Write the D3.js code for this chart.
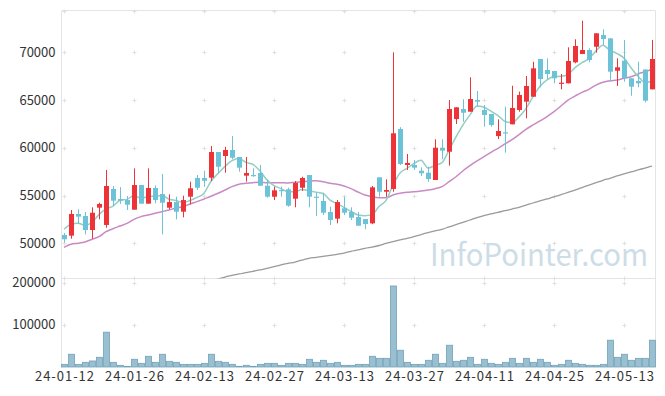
<!DOCTYPE html>
<html><head><meta charset="utf-8">
<script src="https://cdn.jsdelivr.net/npm/d3@7"></script>
<style>
html,body{margin:0;padding:0;background:#fff;}
svg{display:block;}
text{font-family:"Noto Sans CJK KR","Noto Sans",sans-serif;}
</style></head>
<body><svg id="c" width="665" height="396"></svg>
<script>
const dates = ["24-01-12","24-01-15","24-01-16","24-01-17","24-01-18","24-01-19","24-01-22","24-01-23","24-01-24","24-01-25",
"24-01-26","24-01-29","24-01-30","24-01-31","24-02-01","24-02-02","24-02-05","24-02-06","24-02-07","24-02-08",
"24-02-13","24-02-14","24-02-15","24-02-16","24-02-19","24-02-20","24-02-21","24-02-22","24-02-23","24-02-26",
"24-02-27","24-02-28","24-02-29","24-03-04","24-03-05","24-03-06","24-03-07","24-03-08","24-03-11","24-03-12",
"24-03-13","24-03-14","24-03-15","24-03-18","24-03-19","24-03-20","24-03-21","24-03-22","24-03-25","24-03-26",
"24-03-27","24-03-28","24-03-29","24-04-01","24-04-02","24-04-03","24-04-04","24-04-05","24-04-08","24-04-09",
"24-04-11","24-04-12","24-04-15","24-04-16","24-04-17","24-04-18","24-04-19","24-04-22","24-04-23","24-04-24",
"24-04-25","24-04-26","24-04-29","24-04-30","24-05-02","24-05-03","24-05-07","24-05-08","24-05-09","24-05-10",
"24-05-13","24-05-14","24-05-16","24-05-17","24-05-20"];

const open = [50870,50800,53070,52860,51390,53730,51920,55690,54640,54530,
53520,56100,54150,55790,55160,53730,54320,53310,54880,56840,
56840,56870,59560,59140,59770,59040,57080,57150,57360,56030,
54880,55580,55650,54670,55820,57150,54880,54430,53280,52580,
53670,53280,52750,52540,52090,56910,55400,55690,61970,58200,
58200,57600,57390,56630,60010,59590,63010,64060,63780,65000,
63960,63540,61230,61620,62460,63960,64830,65350,69300,68150,
68040,66750,66750,68950,69820,70240,70580,71810,71460,68070,
69120,67280,66990,68200,66120];
const close = [50420,53070,52790,51390,53200,54120,56000,54460,54460,54040,
56100,54150,55790,54530,54250,54320,53310,54530,55760,55820,
56550,59560,58020,59770,58960,57920,57360,57080,56030,54880,
55550,55510,53940,56310,56840,54880,54820,53200,52440,54320,
53200,52680,51840,52020,55860,55400,55580,61520,58300,58410,
57920,57330,56730,60010,59700,64060,64240,63670,65110,64830,
63430,62390,61760,61520,64170,65530,66470,68320,67200,67730,
67280,66820,69090,70660,70240,69190,71990,71390,67970,68430,
67280,66400,66750,64930,69300];
const high = [51080,53490,53560,53280,53770,54250,57680,56000,55890,54950,
57850,56100,57850,56070,57260,55130,54880,54980,56450,57150,
57600,60190,59560,60110,61230,59040,59040,57850,58200,56630,
55930,55930,55820,56520,56970,57150,55340,55300,53830,54530,
54880,53770,53280,52540,56000,56910,56700,70000,62160,59350,
58720,57960,58020,60890,60890,65000,64240,65080,67380,65950,
64480,63540,62980,64300,66500,65880,67520,69010,69300,69370,
68040,67730,70520,71360,73310,70420,71990,72410,71460,69370,
71290,67280,69010,68200,71290];
const low = [50060,50480,52020,50940,50480,52510,51630,53910,54120,53490,
53520,54150,54150,54190,50940,53560,52510,52720,54080,55580,
55930,56520,57260,57390,58800,57500,56450,56970,56030,54770,
54530,54880,53830,53770,55480,53770,52860,52960,51920,52090,
52960,52440,51840,51470,52000,54880,54880,55400,58200,57680,
57680,57050,56450,56630,58800,58130,62490,62730,63780,64300,
62210,62210,60920,59490,62460,63780,63090,65350,66330,67200,
66750,66120,66750,68850,69820,68950,69960,70760,66920,66470,
66920,65450,66330,64760,66120];
const volume = [6300,30200,6300,11100,14300,23000,82500,11100,4000,1600,
18300,8700,25400,11100,30200,13500,11100,6300,6300,6300,
8700,30200,13500,11100,6300,1600,4000,1600,6300,8700,
8700,4000,8700,8700,6300,18300,11100,15900,8700,11100,
4000,4000,6300,6300,25400,20600,20600,192000,39700,11100,
6300,6300,15900,30200,8700,51600,13500,15900,23000,6300,
18300,8700,6300,11100,20600,8700,20600,11100,18300,11100,
4000,6300,15900,8700,6300,4000,4000,6300,63500,23000,
30200,15900,20600,20600,63500];
const ma5 = [51470,51990,52090,51890,52200,53000,53600,53900,54500,54600,
55000,54700,54900,54930,55000,54620,54480,54270,54480,54800,
55250,56500,57300,58050,58650,58870,58470,58260,57570,56640,
56050,55730,55400,55400,55640,55500,55360,55220,54520,54150,
53770,53330,52970,52890,53000,53850,54500,56090,57360,57850,
58360,58700,57880,58140,58440,59750,61140,62410,63450,64380,
64250,63830,63380,62760,62640,63240,64100,65360,66450,67110,
67460,67490,67670,68400,68910,69340,70150,70730,70200,69870,
69390,68390,67490,66840,66960];
const ma20 = [49580,49900,50000,50140,50420,50690,51220,51530,51810,52090,
52510,52790,52960,53140,53310,53490,53700,53830,54120,54360,
54640,54920,55240,55580,55930,56180,56280,56350,56390,56350,
56350,56350,56310,56390,56450,56520,56550,56450,56280,56180,
56000,55720,55370,55060,54880,54770,54770,55060,55240,55340,
55400,55480,55580,55720,55930,56450,56970,57600,58130,58620,
59070,59530,59950,60400,60850,61390,61940,62390,62810,63260,
63780,64380,65000,65420,65810,66120,66570,66860,67020,67100,
67280,67440,67730,67970,68220];
const ma60 = [null,null,null,null,null,null,null,null,null,null,
null,null,null,null,null,null,null,null,null,45690,
45840,46050,46260,46470,46630,46790,46920,47070,47210,47380,
47550,47730,47890,48040,48250,48430,48530,48640,48740,48850,
48980,49160,49300,49480,49610,49770,49980,50170,50350,50520,
50710,50920,51110,51290,51470,51710,51950,52200,52440,52700,
52910,53070,53250,53410,53590,53770,53990,54220,54430,54640,
54850,55090,55340,55580,55840,56100,56350,56600,56810,57050,
57260,57470,57680,57880,58090];
const priceTicks = [50000,55000,60000,65000,70000];
const volumeTicks = [100000,200000];
const xTickLabels = ["24-01-12","24-01-26","24-02-13","24-02-27","24-03-13","24-03-27","24-04-11","24-04-25","24-05-13"];

const svg = d3.select("#c");
const L = 61.5, R = 655.5, T = 10.5, PB = 278.5, VB = 367;
const x = d3.scalePoint().domain(dates).range([64, 652]);
const y = d3.scaleLinear().domain([50000, 70000]).range([243.3, 52.3]);
const yv = d3.scaleLinear().domain([0, 200000]).range([VB, 282.6]);

const UP = "#ee3338", DOWN = "#6cc3d8";

svg.append("defs").append("clipPath").attr("id","pc")
  .append("rect").attr("x", L).attr("y", T).attr("width", R - L).attr("height", PB - T);

// watermark
svg.append("text").attr("x", 430).attr("y", 266).attr("font-size", 31)
  .attr("fill", "#cddde7").attr("textLength", 218).attr("lengthAdjust", "spacingAndGlyphs")
  .text("InfoPointer.com");

// borders
const bc = "#e4e4e4";
svg.append("line").attr("x1", L).attr("x2", L).attr("y1", T).attr("y2", VB).attr("stroke", bc);
svg.append("line").attr("x1", R).attr("x2", R).attr("y1", T).attr("y2", VB).attr("stroke", bc);
svg.append("line").attr("x1", L).attr("x2", R).attr("y1", T).attr("y2", T).attr("stroke", bc);
svg.append("line").attr("x1", L).attr("x2", R).attr("y1", PB).attr("y2", PB).attr("stroke", bc);

// grid crosses
const crossYs = priceTicks.map(y).concat(volumeTicks.map(yv)).concat([11, 278]);
const cg = svg.append("g").attr("stroke", "#e0e0e0").attr("stroke-width", 1);
xTickLabels.forEach(d => {
  const cx = Math.round(x(d)) + 0.5;
  crossYs.forEach(cy0 => {
    const cy = Math.round(cy0) + 0.5;
    cg.append("line").attr("x1", cx - 2).attr("x2", cx + 2).attr("y1", cy).attr("y2", cy);
    cg.append("line").attr("x1", cx).attr("x2", cx).attr("y1", cy - 2).attr("y2", cy + 2);
  });
});

// MA lines
const pg = svg.append("g").attr("clip-path", "url(#pc)");
function maLine(arr, color, w) {
  const ln = d3.line().defined(d => d != null)
    .x((d, i) => x(dates[i])).y(d => y(d)).curve(d3.curveMonotoneX);
  pg.append("path").attr("d", ln(arr)).attr("fill", "none")
    .attr("stroke", color).attr("stroke-width", w);
}
maLine(ma60, "#9a9a9a", 1.3);
maLine(ma20, "#c98ac4", 1.5);
maLine(ma5, "#93cdc3", 1.5);

// candles
const cw = 5;
dates.forEach((d, i) => {
  const up = close[i] >= open[i];
  const col = up ? UP : DOWN;
  const cx = Math.round(x(d)) + 0.5;
  pg.append("line").attr("x1", cx).attr("x2", cx)
    .attr("y1", y(high[i])).attr("y2", y(low[i])).attr("stroke", col).attr("stroke-width", 1);
  const top = y(Math.max(open[i], close[i])), bot = y(Math.min(open[i], close[i]));
  pg.append("rect").attr("x", cx - cw / 2).attr("width", cw)
    .attr("y", top).attr("height", Math.max(1.2, bot - top)).attr("fill", col);
});

// volume bars
const bw = 6;
svg.append("g").selectAll("rect").data(volume).join("rect")
  .attr("x", (v, i) => Math.round(x(dates[i])) - bw / 2 + 0.5)
  .attr("width", bw)
  .attr("y", v => yv(v))
  .attr("height", v => VB - yv(v))
  .attr("fill", "#99bfd0").attr("stroke", "#72a2b8").attr("stroke-width", 0.8);

// axes
function styleAxis(g) {
  g.select(".domain").remove();
  g.selectAll("text").attr("fill", "#333").attr("font-size", 13)
    .attr("font-family", '"Noto Sans CJK KR","Noto Sans",sans-serif');
}
svg.append("g").attr("transform", `translate(${L},0)`)
  .call(d3.axisLeft(y).tickValues(priceTicks).tickSize(0).tickPadding(6).tickFormat(d3.format("d")))
  .call(styleAxis);
svg.append("g").attr("transform", `translate(${L},0)`)
  .call(d3.axisLeft(yv).tickValues(volumeTicks).tickSize(0).tickPadding(6).tickFormat(d3.format("d")))
  .call(styleAxis);
svg.append("g").attr("transform", `translate(0,${VB})`)
  .call(d3.axisBottom(x).tickValues(xTickLabels).tickSize(0).tickPadding(5))
  .call(styleAxis)
  .call(g => g.selectAll("text").attr("textLength", 59).attr("lengthAdjust", "spacing"));
</script></body></html>
